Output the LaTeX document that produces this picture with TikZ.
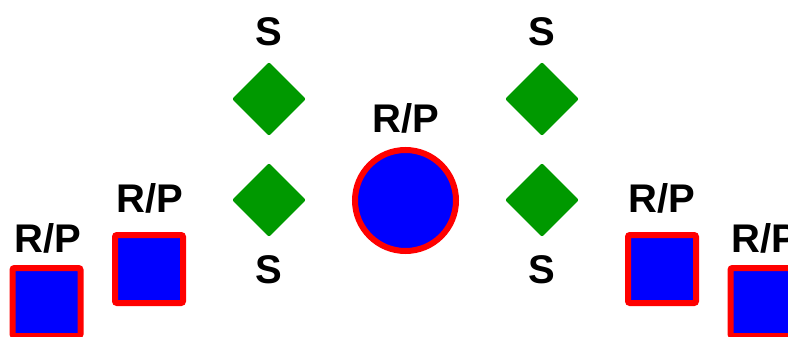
\documentclass[tikz,border=0pt]{standalone}
\usepackage{fontspec}
\setmainfont{Liberation Sans}
\usetikzlibrary{shapes.geometric}

\definecolor{rpblue}{RGB}{0,0,255}
\definecolor{rpred}{RGB}{255,0,0}
\definecolor{sgreen}{RGB}{0,153,0}

\tikzset{
  rpbox/.style={rectangle, draw=rpred, fill=rpblue, line width=6pt,
    minimum size=68pt, inner sep=0pt, rounded corners=2pt},
  rpround/.style={circle, draw=rpred, fill=rpblue, line width=6pt,
    minimum size=101pt, inner sep=0pt},
  sdiamond/.style={diamond, fill=sgreen, minimum width=74pt,
    minimum height=74pt, inner sep=0pt, rounded corners=2pt},
  tag/.style={font=\fontsize{40}{48}\selectfont\bfseries, anchor=base,
    inner sep=0pt}
}

\begin{document}
\begin{tikzpicture}[x=1pt,y=-1pt]
\useasboundingbox (0,0) rectangle (788,337);

% Left squares
\node[rpbox] (rpA) at (46.5,302) {};
\node[tag] (rpAlbl) at (47.5,252) {R/P};
\node[rpbox] (rpB) at (149,269) {};
\node[tag] (rpBlbl) at (149.5,212) {R/P};

% Diamonds with S labels
\foreach \x/\n in {269/L,542/R}{
  \node[sdiamond] (s\n top) at (\x,99) {};
  \node[sdiamond] (s\n bot) at (\x,200) {};
  \node[tag] (s\n toplbl) at (\x,46) {S};
  \node[tag] (s\n botlbl) at (\x,283) {S};
}

% Centre circle
\node[rpround] (rpC) at (405.5,200.5) {};
\node[tag] (rpClbl) at (406,132) {R/P};

% Right squares
\node[rpbox] (rpD) at (662,269) {};
\node[tag] (rpDlbl) at (662,212) {R/P};
\node[rpbox] (rpE) at (764.5,302) {};
\node[tag] (rpElbl) at (765,252) {R/P};

\end{tikzpicture}
\end{document}
